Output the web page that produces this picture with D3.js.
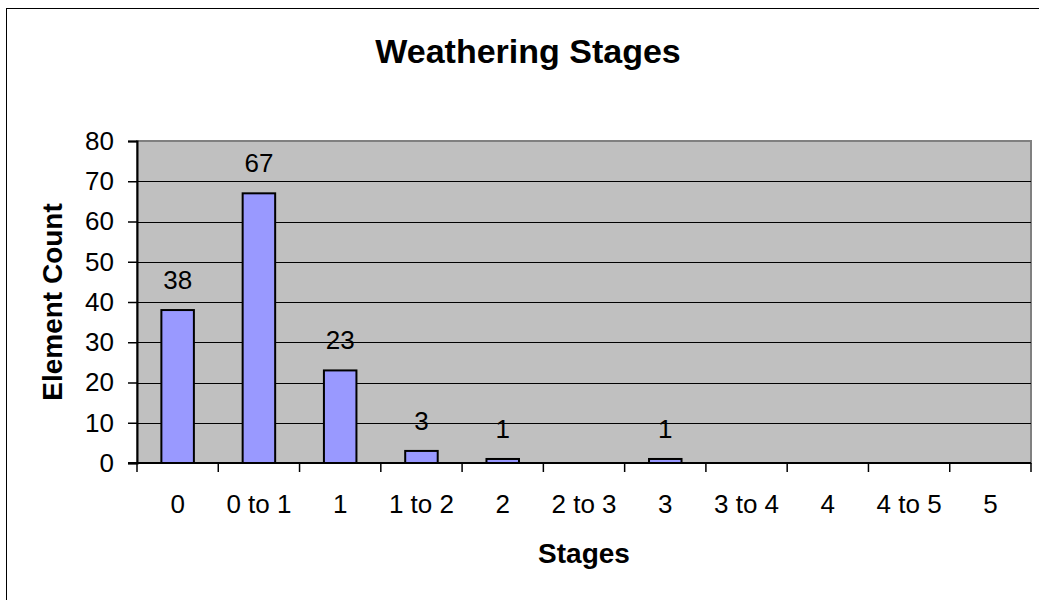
<!DOCTYPE html>
<html>
<head>
<meta charset="utf-8">
<script src="https://cdn.jsdelivr.net/npm/d3@7"></script>
<style>
  body { margin: 0; background: #fff; }
  svg { display: block; font-family: Arial, "Liberation Sans", sans-serif; }
</style>
</head>
<body>
<script>
const w = 1039;
const h = 600;

// weathering stage categories and element counts (empty stages are null)
const stages = ["0", "0 to 1", "1", "1 to 2", "2", "2 to 3", "3", "3 to 4", "4", "4 to 5", "5"];
const counts = [38, 67, 23, 3, 1, null, 1, null, null, null, null];
const yTicks = [0, 10, 20, 30, 40, 50, 60, 70, 80];

const plot = {left: 137, right: 1031, top: 141, bottom: 463};

const svg = d3.select("body")
  .append("svg")
  .attr("width", w)
  .attr("height", h);

svg.append("rect")
  .attr("width", w)
  .attr("height", h)
  .attr("fill", "#fff");

// outer chart border (only left and top fall inside the picture)
svg.append("rect")
  .attr("x", 6.5)
  .attr("y", 8.5)
  .attr("width", w + 20)
  .attr("height", h + 20)
  .attr("fill", "none")
  .attr("stroke", "#000")
  .attr("stroke-width", 1);

const xScale = d3.scaleBand()
  .domain(stages)
  .range([plot.left, plot.right])
  .paddingInner(0.6)
  .paddingOuter(0.3);

const yScale = d3.scaleLinear()
  .domain([0, 80])
  .range([plot.bottom, plot.top]);

// plot area
svg.append("rect")
  .attr("x", plot.left)
  .attr("y", plot.top)
  .attr("width", plot.right - plot.left)
  .attr("height", plot.bottom - plot.top)
  .attr("fill", "#c0c0c0")
  .attr("stroke", "#808080")
  .attr("stroke-width", 2);

// gridlines
svg.append("g")
  .selectAll("line")
  .data(yTicks.filter(d => d > 0 && d < 80))
  .enter()
  .append("line")
  .attr("x1", plot.left)
  .attr("x2", plot.right)
  .attr("y1", d => Math.round(yScale(d)) + 0.5)
  .attr("y2", d => Math.round(yScale(d)) + 0.5)
  .attr("stroke", "#000")
  .attr("stroke-width", 1);

// bars
svg.append("g")
  .selectAll("rect")
  .data(stages.map((s, i) => ({stage: s, value: counts[i]})).filter(d => d.value != null))
  .enter()
  .append("rect")
  .attr("x", d => xScale(d.stage))
  .attr("y", d => yScale(d.value))
  .attr("width", xScale.bandwidth())
  .attr("height", d => yScale(0) - yScale(d.value))
  .attr("fill", "#9999ff")
  .attr("stroke", "#000")
  .attr("stroke-width", 2);

// data labels
svg.append("g")
  .selectAll("text")
  .data(stages.map((s, i) => ({stage: s, value: counts[i]})).filter(d => d.value != null))
  .enter()
  .append("text")
  .attr("x", d => xScale(d.stage) + xScale.bandwidth() / 2)
  .attr("y", d => yScale(d.value) - 21)
  .attr("text-anchor", "middle")
  .style("font-size", "26px")
  .text(d => d.value);

// y axis
const yAxis = d3.axisLeft(yScale)
  .tickValues(yTicks)
  .tickSize(9)
  .tickPadding(14);

svg.append("g")
  .attr("transform", "translate(" + plot.left + ",0)")
  .call(yAxis)
  .call(g => g.select(".domain").attr("stroke-width", 2))
  .call(g => g.selectAll(".tick line").attr("stroke-width", 1.5))
  .call(g => g.selectAll("text").style("font-size", "26px").attr("fill", "#000").style("font-family", "Arial, 'Liberation Sans', sans-serif"));

// x axis: tick marks at category boundaries, labels centred in bands
const xg = svg.append("g")
  .attr("transform", "translate(0," + plot.bottom + ")");

xg.append("line")
  .attr("x1", plot.left - 9)
  .attr("x2", plot.right)
  .attr("stroke", "#000")
  .attr("stroke-width", 2);

xg.selectAll(".bound")
  .data(d3.range(stages.length + 1))
  .enter()
  .append("line")
  .attr("class", "bound")
  .attr("x1", i => plot.left + i * xScale.step())
  .attr("x2", i => plot.left + i * xScale.step())
  .attr("y1", 0)
  .attr("y2", 9)
  .attr("stroke", "#000")
  .attr("stroke-width", 1.5);

xg.selectAll("text")
  .data(stages)
  .enter()
  .append("text")
  .attr("x", d => xScale(d) + xScale.bandwidth() / 2)
  .attr("y", 50)
  .attr("text-anchor", "middle")
  .style("font-size", "26px")
  .text(d => d);

// titles
svg.append("text")
  .attr("x", 528)
  .attr("y", 63)
  .attr("text-anchor", "middle")
  .style("font-size", "34px")
  .style("font-weight", "bold")
  .text("Weathering Stages");

svg.append("text")
  .attr("x", (plot.left + plot.right) / 2)
  .attr("y", 563)
  .attr("text-anchor", "middle")
  .style("font-size", "28px")
  .style("font-weight", "bold")
  .text("Stages");

svg.append("text")
  .attr("transform", "translate(62," + (plot.top + plot.bottom) / 2 + ") rotate(-90)")
  .attr("text-anchor", "middle")
  .style("font-size", "28px")
  .style("font-weight", "bold")
  .text("Element Count");
</script>
</body>
</html>
